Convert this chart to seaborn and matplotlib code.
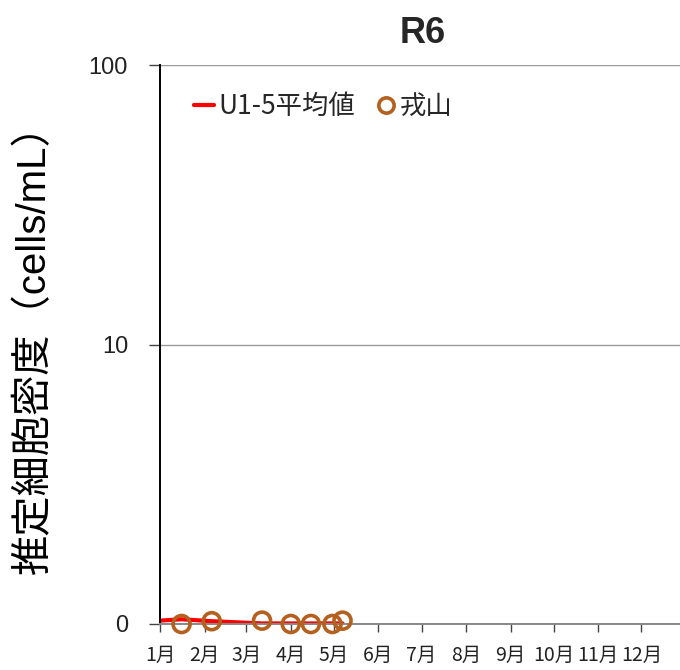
import matplotlib

matplotlib.use("Agg")
import matplotlib.pyplot as plt
import matplotlib.dates as mdates
from matplotlib.lines import Line2D
import numpy as np
import pandas as pd
import seaborn as sns

# --- data (R6 = 2024) ---------------------------------------------------------
AVG_DATES = ["2024-01-01", "2024-01-16", "2024-02-06", "2024-03-12",
             "2024-04-01", "2024-04-15", "2024-04-30", "2024-05-07"]
AVG_VALUES = [0.12, 0.17, 0.10, 0.02, 0.02, 0.02, 0.02, 0.02]

SITE_DATES = ["2024-01-16", "2024-02-06", "2024-03-12", "2024-04-01",
              "2024-04-15", "2024-04-30", "2024-05-07"]
SITE_VALUES = [0.0, 0.1, 0.12, 0.0, 0.0, 0.0, 0.12]

MONTH_LABELS = [f"{m}月" for m in range(1, 13)]
Y_TICKS = [0, 10, 100]
TITLE = "R6"
Y_LABEL = "推定細胞密度（cells/mL）"
AVG_NAME = "U1-5平均値"
SITE_NAME = "戎山"

RED = "#FF0000"
BROWN = "#B4601E"
MIXED = ["Liberation Sans", "Noto Sans CJK JP", "DejaVu Sans"]


def forward(v):
    # 0-10 liniowo, powyzej 10 logarytmicznie (jak w oryginale)
    v = np.asarray(v, dtype=float)
    return np.where(v <= 10, v / 10.0, np.log10(np.maximum(v, 10)))


def inverse(v):
    v = np.asarray(v, dtype=float)
    return np.where(v <= 1, v * 10.0, 10 ** np.maximum(v, 1))


avg_df = pd.DataFrame({"date": pd.to_datetime(AVG_DATES), "value": AVG_VALUES})
site_df = pd.DataFrame({"date": pd.to_datetime(SITE_DATES), "value": SITE_VALUES})

sns.set_theme(style="white")
plt.rcParams["font.family"] = ["Noto Sans CJK JP", "DejaVu Sans"]

fig = plt.figure(figsize=(6.8, 6.7), dpi=100)
ax = fig.add_axes([160 / 680, 1 - 624 / 670, 526 / 680, 559 / 670])

sns.lineplot(data=avg_df, x="date", y="value", color=RED, linewidth=3.0, ax=ax)
sns.scatterplot(data=site_df, x="date", y="value", marker="o", s=150,
                facecolor="none", edgecolor=BROWN, linewidth=2.6, ax=ax,
                zorder=5, clip_on=False)

ax.set_yscale("function", functions=(forward, inverse))
ax.set_ylim(0, 100)
ax.set_yticks(Y_TICKS)
ax.set_yticklabels([str(t) for t in Y_TICKS], family="Liberation Sans",
                   fontsize=17, color="#222222")
ax.yaxis.grid(True, color="#999999", linewidth=1.0)
ax.set_axisbelow(True)

month_starts = pd.date_range("2024-01-01", periods=12, freq="MS")
ax.set_xlim(pd.Timestamp("2024-01-01"), pd.Timestamp("2025-01-01"))
ax.set_xticks(month_starts)
ax.set_xticklabels(MONTH_LABELS, fontsize=14, color="#222222")
ax.xaxis.set_minor_locator(mdates.DayLocator(bymonthday=32))

ax.tick_params(axis="y", which="major", left=True, length=8, width=1.0,
               color="#444444", pad=15)
ax.tick_params(axis="x", which="major", bottom=True, length=6, width=1.0,
               color="#444444", pad=9)

for side in ["top", "right"]:
    ax.spines[side].set_visible(False)
ax.spines["left"].set_color("#000000")
ax.spines["left"].set_linewidth(1.4)
ax.spines["bottom"].set_color("#888888")
ax.spines["bottom"].set_linewidth(1.4)

ax.set_xlabel("")
ax.set_ylabel(Y_LABEL, family=MIXED, fontsize=29, color="#000000")
ax.yaxis.set_label_coords(-0.203, 0.51)
ax.set_title(TITLE, family="Liberation Sans", fontweight="bold",
             fontsize=26, pad=16)

handles = [
    Line2D([], [], color=RED, linewidth=3.0),
    Line2D([], [], marker="o", linestyle="none", markersize=11,
           markerfacecolor="none", markeredgecolor=BROWN, markeredgewidth=2.6),
]
ax.legend(handles, [AVG_NAME, SITE_NAME], ncol=2, frameon=False,
          loc="center left", bbox_to_anchor=(0.04, 0.925), fontsize=19,
          handlelength=0.75, handletextpad=0.15, columnspacing=0.8,
          borderpad=0)

fig.savefig("out.png", dpi=100)
